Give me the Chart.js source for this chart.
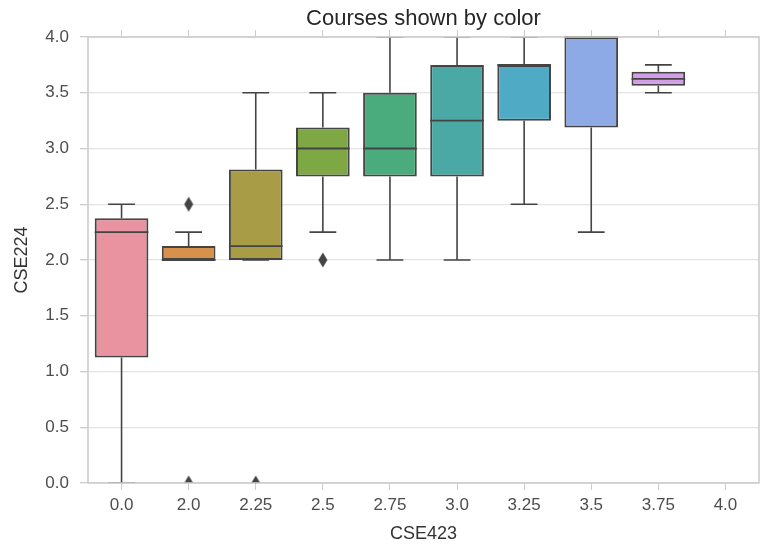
<!DOCTYPE html>
<html>
<head>
<meta charset="utf-8">
<script src="https://cdn.jsdelivr.net/npm/chart.js@4.4.0/dist/chart.umd.min.js"></script>
<style>
  html, body { margin: 0; padding: 0; background: #ffffff; }
  #contenedor { width: 767px; height: 546px; }
</style>
</head>
<body>
<div id="contenedor"><canvas id="myChart"></canvas></div>
<script>
/* DATOS DEL GRAFICO */
const categorias = ["0.0", "2.0", "2.25", "2.5", "2.75", "3.0", "3.25", "3.5", "3.75", "4.0"];
const bigoteMin = [0.0, 2.0, 2.0, 2.25, 2.0, 2.0, 2.5, 2.25, 3.5, null];
const cuartil1 = [1.125, 2.0, 2.0, 2.75, 2.75, 2.75, 3.25, 3.1875, 3.5625, null];
const mediana = [2.25, 2.0, 2.125, 3.0, 3.0, 3.25, 3.75, 4.0, 3.625, null];
const cuartil3 = [2.375, 2.125, 2.8125, 3.1875, 3.5, 3.75, 3.75, 4.0, 3.6875, null];
const bigoteMax = [2.5, 2.25, 3.5, 3.5, 4.0, 4.0, 4.0, 4.0, 3.75, null];
const atipicosX = ["2.0", "2.0", "2.25", "2.5"];
const atipicosY = [2.5, 0.0, 0.0, 2.0];
const ticksY = [0, 0.5, 1, 1.5, 2, 2.5, 3, 3.5, 4];
const colores = ["#ea93a0", "#d8914c", "#a99c46", "#7ea843", "#4aab7d", "#4aa8a5", "#4eaac5", "#8eaae6", "#d49ee6", "#e88fb8"];

const colorLinea = "#444444";
const fuente = "'Liberation Sans', Arial, sans-serif";

// CAJAS COMO BARRAS FLOTANTES [Q1, Q3]
const cajas = cuartil1.map((q1, i) => (q1 === null ? null : [q1, cuartil3[i]]));
const puntosAtipicos = atipicosX.map((x, i) => ({ x: x, y: atipicosY[i] }));

// FORMA DE DIAMANTE PARA LOS ATIPICOS
function crearDiamante() {
  const c = document.createElement("canvas");
  c.width = 10;
  c.height = 16;
  const ctx = c.getContext("2d");
  ctx.fillStyle = colorLinea;
  ctx.beginPath();
  ctx.moveTo(5, 0.5);
  ctx.lineTo(9.5, 8);
  ctx.lineTo(5, 15.5);
  ctx.lineTo(0.5, 8);
  ctx.closePath();
  ctx.fill();
  return c;
}

// PLUGIN PARA BIGOTES, MEDIANAS Y MARCO
const pluginBigotes = {
  id: "bigotes",
  beforeDatasetsDraw(chart) {
    const { ctx, chartArea, scales: { x, y } } = chart;
    const anchoCat = x.getPixelForValue(1) - x.getPixelForValue(0);
    ctx.save();
    ctx.beginPath();
    ctx.rect(chartArea.left, chartArea.top, chartArea.right - chartArea.left, chartArea.bottom - chartArea.top);
    ctx.clip();
    ctx.strokeStyle = colorLinea;
    ctx.lineWidth = 1.6;
    bigoteMin.forEach((min, i) => {
      if (min === null) return;
      const cx = x.getPixelForValue(i);
      const medio = anchoCat * 0.2;
      ctx.beginPath();
      ctx.moveTo(cx, y.getPixelForValue(min));
      ctx.lineTo(cx, y.getPixelForValue(cuartil1[i]));
      ctx.moveTo(cx, y.getPixelForValue(cuartil3[i]));
      ctx.lineTo(cx, y.getPixelForValue(bigoteMax[i]));
      ctx.moveTo(cx - medio, y.getPixelForValue(min));
      ctx.lineTo(cx + medio, y.getPixelForValue(min));
      ctx.moveTo(cx - medio, y.getPixelForValue(bigoteMax[i]));
      ctx.lineTo(cx + medio, y.getPixelForValue(bigoteMax[i]));
      ctx.stroke();
    });
    ctx.restore();
  },
  afterDatasetsDraw(chart) {
    const { ctx, chartArea, scales: { y } } = chart;
    const meta = chart.getDatasetMeta(0);
    ctx.save();
    ctx.strokeStyle = colorLinea;
    ctx.lineWidth = 1.8;
    mediana.forEach((m, i) => {
      if (m === null) return;
      const barra = meta.data[i];
      const py = y.getPixelForValue(m);
      ctx.beginPath();
      ctx.moveTo(barra.x - barra.width / 2, py);
      ctx.lineTo(barra.x + barra.width / 2, py);
      ctx.stroke();
    });
    // MARCO DEL AREA
    ctx.strokeStyle = "#cccccc";
    ctx.lineWidth = 1.6;
    ctx.strokeRect(chartArea.left, chartArea.top, chartArea.right - chartArea.left, chartArea.bottom - chartArea.top);
    ctx.restore();
  }
};

const config = {
  type: "bar",
  data: {
    labels: categorias,
    datasets: [
      {
        label: "CSE224",
        data: cajas,
        backgroundColor: colores,
        borderColor: colorLinea,
        borderWidth: 2,
        borderSkipped: false,
        categoryPercentage: 0.8,
        barPercentage: 1.0,
        order: 2
      },
      {
        type: "line",
        label: "atipicos",
        data: puntosAtipicos,
        showLine: false,
        pointStyle: crearDiamante(),
        pointRadius: 6,
        order: 1
      }
    ]
  },
  options: {
    responsive: true,
    maintainAspectRatio: false,
    animation: false,
    layout: { padding: { left: 0, right: 8, top: 0, bottom: 0 } },
    plugins: {
      legend: { display: false },
      tooltip: { enabled: false },
      title: {
        display: true,
        fullSize: false,
        text: "Courses shown by color",
        color: "#262626",
        font: { family: fuente, size: 22, weight: "normal", lineHeight: 1.0 },
        padding: { top: 8, bottom: 0 }
      }
    },
    scales: {
      x: {
        type: "category",
        position: "bottom",
        offset: true,
        grid: { drawOnChartArea: false, drawTicks: true, offset: false, tickLength: 7, color: "#cccccc" },
        border: { display: false },
        ticks: { color: "#4d4d4d", padding: 5, font: { family: fuente, size: 17 } },
        title: { display: true, text: "CSE423", color: "#333333", font: { family: fuente, size: 18 }, padding: { top: 2, bottom: 1 } },
        afterFit(scale) { scale.height = 63; }
      },
      x2: {
        type: "category",
        position: "top",
        offset: true,
        grid: { drawOnChartArea: false, drawTicks: true, offset: false, tickLength: 7, color: "#cccccc" },
        border: { display: false },
        ticks: { display: false },
        afterFit(scale) { scale.height = 7; }
      },
      y: {
        min: 0,
        max: 4,
        afterBuildTicks(scale) { scale.ticks = ticksY.map(v => ({ value: v })); },
        grid: { color: "#e4e4e4", tickColor: "#cccccc", tickLength: 8, lineWidth: 1.3 },
        border: { display: false },
        ticks: {
          color: "#4d4d4d",
          padding: 11,
          font: { family: fuente, size: 17 },
          callback: v => Number(v).toFixed(1)
        },
        title: { display: true, text: "CSE224", color: "#333333", font: { family: fuente, size: 18 }, padding: { top: 11, bottom: 2 } },
        afterFit(scale) { scale.width = 88; }
      }
    }
  },
  plugins: [pluginBigotes]
};

/* RENDER */
const chartDOM = document.getElementById("myChart");
const grafico = new Chart(chartDOM, config);
</script>
</body>
</html>
